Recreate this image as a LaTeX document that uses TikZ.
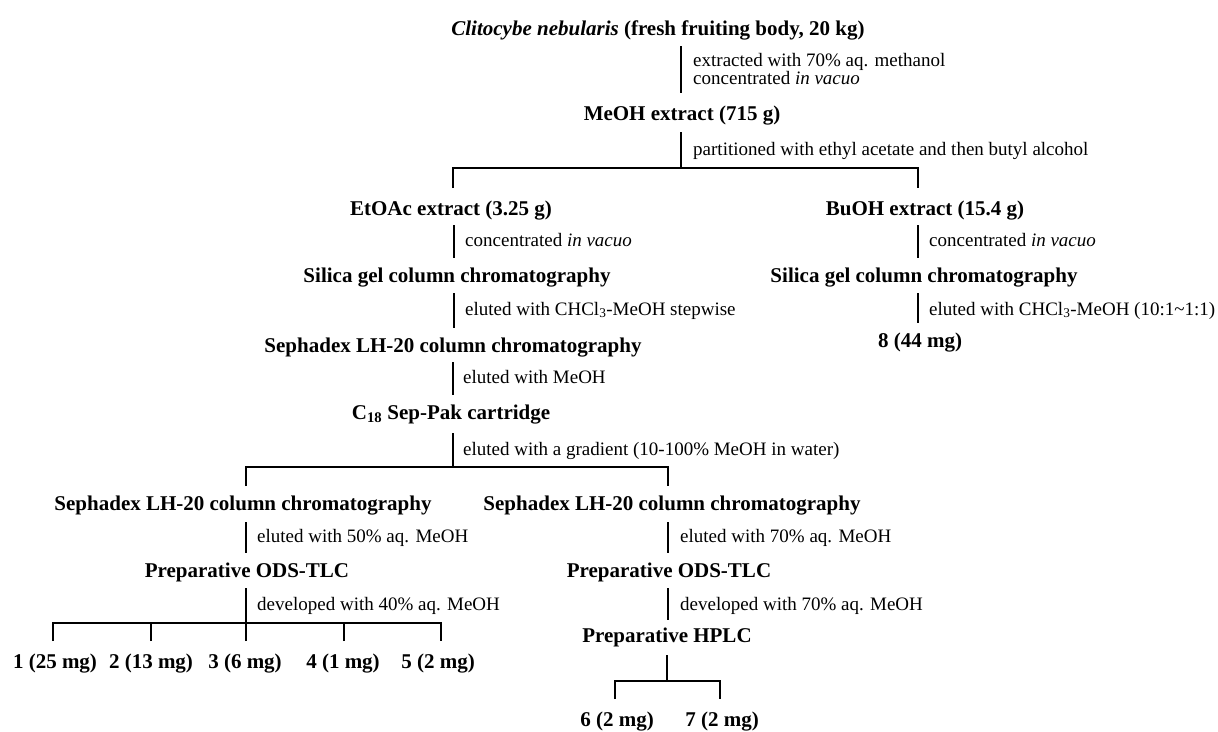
\documentclass[tikz,border=0pt]{standalone}
\usepackage{fontspec}
\setmainfont{Liberation Serif}
\begin{document}
\begin{tikzpicture}[x=1pt,y=-1pt,
  bnode/.style={font=\fontsize{21}{25}\selectfont\bfseries, anchor=base, inner sep=0pt},
  lbl/.style={font=\fontsize{19}{22}\selectfont, anchor=base west, inner sep=0pt, align=left},
  conn/.style={line width=1.5pt, line cap=butt}]
\useasboundingbox (0,0) rectangle (1218,731);
% nodes
\node[bnode] (title) at (658,35) {\textit{Clitocybe nebularis} (fresh fruiting body, 20 kg)};
\node[bnode] (meoh) at (682,120) {MeOH extract (715 g)};
\node[bnode] (etoac) at (451,215) {EtOAc extract (3.25 g)};
\node[bnode] (buoh) at (925,215) {BuOH extract (15.4 g)};
\node[bnode] (silL) at (457,282) {Silica gel column chromatography};
\node[bnode] (silR) at (924,282) {Silica gel column chromatography};
\node[bnode] (seph1) at (453,352) {Sephadex LH-20 column chromatography};
\node[bnode] (c8) at (920,347) {8 (44 mg)};
\node[bnode] (c18) at (451,419) {C\textsubscript{18} Sep-Pak cartridge};
\node[bnode] (sephL) at (243,510) {Sephadex LH-20 column chromatography};
\node[bnode] (sephR) at (672,510) {Sephadex LH-20 column chromatography};
\node[bnode] (odsL) at (247,577) {Preparative ODS-TLC};
\node[bnode] (odsR) at (669,577) {Preparative ODS-TLC};
\node[bnode] (hplc) at (667,642) {Preparative HPLC};
\node[bnode] (c1) at (55,668) {1 (25 mg)};
\node[bnode] (c2) at (151,668) {2 (13 mg)};
\node[bnode] (c3) at (245,668) {3 (6 mg)};
\node[bnode] (c4) at (343,668) {4 (1 mg)};
\node[bnode] (c5) at (438,668) {5 (2 mg)};
\node[bnode] (c6) at (617,726) {6 (2 mg)};
\node[bnode] (c7) at (722,726) {7 (2 mg)};
% labels
\node[lbl] (t1) at (693,66) {extracted with 70\% aq. methanol};
\node[lbl] (t1b) at (693,84) {concentrated \textit{in vacuo}};
\node[lbl] (t2) at (693,155) {partitioned with ethyl acetate and then butyl alcohol};
\node[lbl] (t3) at (465,246) {concentrated \textit{in vacuo}};
\node[lbl] (t4) at (929,246) {concentrated \textit{in vacuo}};
\node[lbl] (t5) at (465,315) {eluted with CHCl\textsubscript{3}-MeOH stepwise};
\node[lbl] (t6) at (929,315) {eluted with CHCl\textsubscript{3}-MeOH (10:1\textasciitilde1:1)};
\node[lbl] (t7) at (463,383) {eluted with MeOH};
\node[lbl] (t8) at (463,455) {eluted with a gradient (10-100\% MeOH in water)};
\node[lbl] (t9) at (257,542) {eluted with 50\% aq. MeOH};
\node[lbl] (t10) at (680,542) {eluted with 70\% aq. MeOH};
\node[lbl] (t11) at (257,610) {developed with 40\% aq. MeOH};
\node[lbl] (t12) at (680,610) {developed with 70\% aq. MeOH};
% connector coordinates
\coordinate (p1a) at (681,46); \coordinate (p1b) at (681,93);
\coordinate (p2a) at (681,132); \coordinate (p2b) at (681,168);
\coordinate (b1l) at (453,188); \coordinate (b1r) at (918,188);
\coordinate (p3a) at (454,225); \coordinate (p3b) at (454,258);
\coordinate (p4a) at (918,225); \coordinate (p4b) at (918,258);
\coordinate (p5a) at (454,293); \coordinate (p5b) at (454,328);
\coordinate (p6a) at (918,293); \coordinate (p6b) at (918,323);
\coordinate (p7a) at (453,362); \coordinate (p7b) at (453,395);
\coordinate (p8a) at (453,433); \coordinate (p8b) at (453,467);
\coordinate (b2l) at (246,486); \coordinate (b2r) at (668,486);
\coordinate (p9a) at (246,522); \coordinate (p9b) at (246,553);
\coordinate (p10a) at (668,522); \coordinate (p10b) at (668,553);
\coordinate (p11a) at (246,588); \coordinate (p11b) at (246,623);
\coordinate (p12a) at (668,588); \coordinate (p12b) at (668,620);
\coordinate (s1) at (53,641); \coordinate (s2) at (151,641); \coordinate (s3) at (246,641);
\coordinate (s4) at (344,641); \coordinate (s5) at (441,641);
\coordinate (p13a) at (667,655); \coordinate (p13b) at (667,681);
\coordinate (s6) at (615,699); \coordinate (s7) at (720,699);
% connectors
\draw[conn] (p1a) -- (p1b);
\draw[conn] (p2a) -- (p2b);
\draw[conn] (b1l) |- (p2b) -| (b1r);
\draw[conn] (p3a) -- (p3b);
\draw[conn] (p4a) -- (p4b);
\draw[conn] (p5a) -- (p5b);
\draw[conn] (p6a) -- (p6b);
\draw[conn] (p7a) -- (p7b);
\draw[conn] (p8a) -- (p8b);
\draw[conn] (b2l) |- (p8b) -| (b2r);
\draw[conn] (p9a) -- (p9b);
\draw[conn] (p10a) -- (p10b);
\draw[conn] (p11a) -- (p11b);
\draw[conn] (p12a) -- (p12b);
\draw[conn] (s1) |- (p11b) -| (s5);
\draw[conn] (s2) -- (s2 |- p11b);
\draw[conn] (s3) -- (p11b);
\draw[conn] (s4) -- (s4 |- p11b);
\draw[conn] (p13a) -- (p13b);
\draw[conn] (s6) |- (p13b) -| (s7);
\end{tikzpicture}
\end{document}
